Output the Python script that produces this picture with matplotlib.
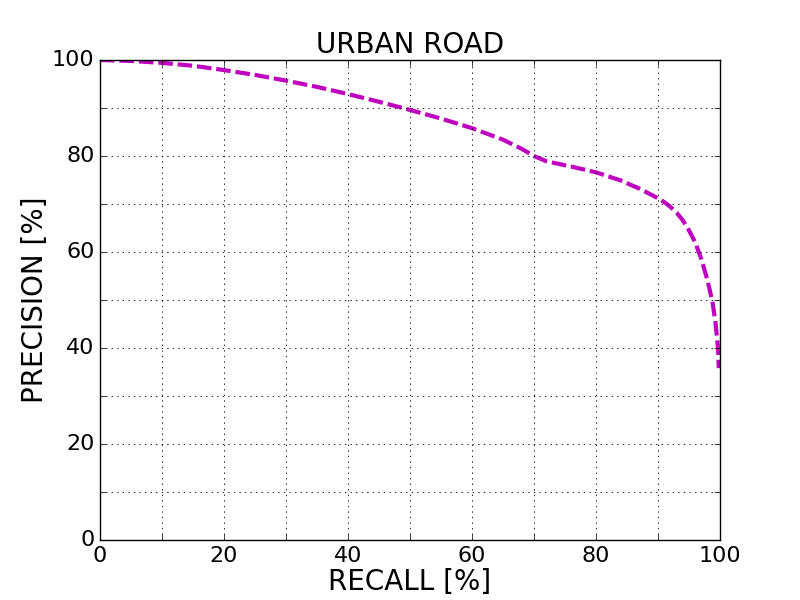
import matplotlib
matplotlib.use("Agg")
import matplotlib.pyplot as plt
from matplotlib.ticker import MultipleLocator

# Precision / recall values
recall = [0, 5, 10, 15, 20, 25, 30, 35, 40, 45, 50, 55, 60, 65, 68, 70, 72,
          76, 80, 84, 87, 90, 91, 92, 93, 94, 95, 96, 97, 98, 98.8, 99.3,
          99.7, 99.8]
precision = [100, 99.8, 99.4, 98.8, 97.9, 96.9, 95.7, 94.4, 92.9, 91.3, 89.6,
             87.8, 85.8, 83.4, 81.5, 80.0, 78.9, 77.8, 76.6, 74.9, 73.2, 71.2,
             70.4, 69.4, 68.2, 66.6, 64.5, 62.0, 58.5, 54.0, 49.5, 45.0,
             39.6, 35.8]

plt.style.use("classic")
fig = plt.figure(figsize=(8, 6), dpi=100, facecolor="white")
ax = fig.add_subplot(111)

ax.plot(recall, precision, "m--", linewidth=3, dashes=(10.5, 3.5))

ax.set_xlim(0, 100)
ax.set_ylim(0, 100)
ax.xaxis.set_major_locator(MultipleLocator(20))
ax.yaxis.set_major_locator(MultipleLocator(20))
ax.xaxis.set_minor_locator(MultipleLocator(10))
ax.yaxis.set_minor_locator(MultipleLocator(10))
ax.tick_params(which="both", direction="in", length=4, labelsize=16)
ax.grid(True, which="both", linestyle=":", color="black", linewidth=0.6)

ax.set_title("URBAN ROAD", fontsize=20)
ax.set_xlabel("RECALL [%]", fontsize=20, labelpad=2)
ax.set_ylabel("PRECISION [%]", fontsize=20, labelpad=2)

fig.savefig("out.png", dpi=100, facecolor="white")
